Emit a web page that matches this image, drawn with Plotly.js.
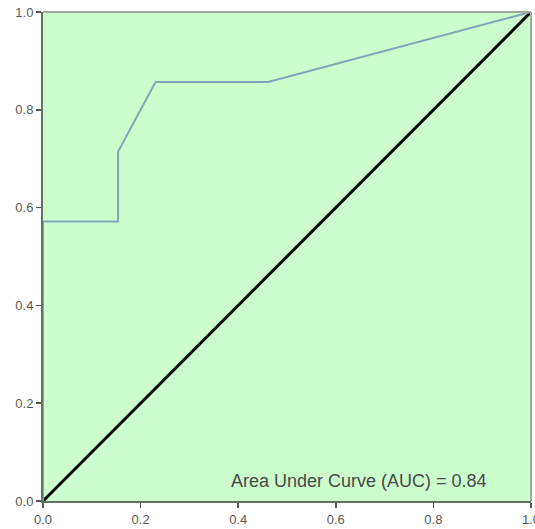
<!DOCTYPE html>
<html>
<head>
<meta charset="utf-8">
<script src="https://cdn.plot.ly/plotly-3.0.1.min.js"></script>
<style>html,body{margin:0;padding:0;background:#fff;}#chart{width:535px;height:529px;}</style>
</head>
<body>
<div id="chart"></div>
<script>
// ROC curve data (1 - specificity, sensitivity)
const fpr = [0, 0, 0.1538, 0.1538, 0.2308, 0.4615, 1];
const tpr = [0, 0.5714, 0.5714, 0.7143, 0.8571, 0.8571, 1];
const refX = [0, 1];
const refY = [0, 1];
const tickVals = [0, 0.2, 0.4, 0.6, 0.8, 1.0];
const tickText = ["0.0", "0.2", "0.4", "0.6", "0.8", "1.0"];
const aucLabel = "Area Under Curve (AUC) = 0.84";

const traces = [
  {x: refX, y: refY, mode: 'lines', line: {color: '#000000', width: 3}, hoverinfo: 'skip'},
  {x: fpr, y: tpr, mode: 'lines', line: {color: '#7fa7b8', width: 2}}
];

const axisCommon = {
  range: [0, 1], tickvals: tickVals, ticktext: tickText,
  ticks: 'outside', ticklen: 5, tickwidth: 1.5, tickcolor: '#555',
  showgrid: false, zeroline: false, showline: true, linecolor: '#5d7460', linewidth: 2,
  ticklabeloverflow: 'allow',
  tickfont: {family: 'Liberation Sans, Arial, sans-serif', size: 13, color: '#5a5a5a'}
};

const layout = {
  width: 535, height: 529,
  margin: {l: 43, r: 4, t: 12, b: 28},
  paper_bgcolor: '#ffffff', plot_bgcolor: '#ccfdcc',
  showlegend: false,
  xaxis: Object.assign({}, axisCommon, {ticklabelstandoff: 0}),
  yaxis: Object.assign({}, axisCommon, {ticklabelstandoff: 0}),
  shapes: [
    {type: 'line', xref: 'paper', yref: 'paper', x0: 0, x1: 1, y0: 1, y1: 1, line: {color: '#a0a8a0', width: 2}},
    {type: 'line', xref: 'paper', yref: 'paper', x0: 1, x1: 1, y0: 0, y1: 1, line: {color: '#a0a8a0', width: 2}}
  ],
  annotations: [
    {x: 0.914, y: 0.04, xref: 'paper', yref: 'paper', xanchor: 'right', yanchor: 'middle',
     text: aucLabel, showarrow: false,
     font: {family: 'Liberation Sans, Arial, sans-serif', size: 18, color: '#484848'}}
  ]
};

Plotly.newPlot('chart', traces, layout, {displayModeBar: false, staticPlot: true});
</script>
</body>
</html>
